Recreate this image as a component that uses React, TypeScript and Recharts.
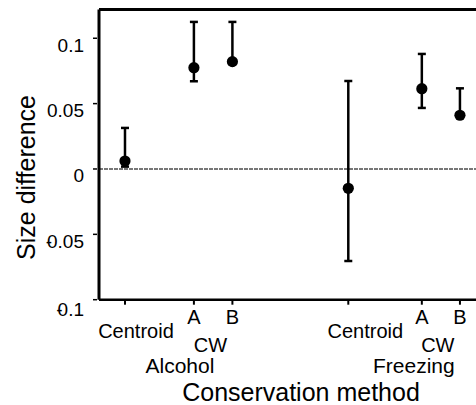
import React from 'react';
import { ScatterChart, Scatter, XAxis, YAxis, ErrorBar, ReferenceLine } from 'recharts';

// ---- data ----
const categories = ['Centroid', 'A', 'B', 'Centroid', 'A', 'B'];
const xPositions = [1, 2.79, 3.79, 6.8, 8.71, 9.7];
const means = [0.0061, 0.0775, 0.0821, -0.0148, 0.0614, 0.0411];
const lowers = [0.0018, 0.0671, 0.0803, -0.0704, 0.0467, 0.0393];
const uppers = [0.0314, 0.1125, 0.1125, 0.0673, 0.088, 0.0617];
const groupNames = ['Alcohol', 'Freezing'];
const subgroupName = 'CW';
const yTicks = [-0.1, -0.05, 0, 0.05, 0.1];
const yTickLabels = ['-0.1', '-0.05', '0', '0.05', '0.1'];
const xAxisTitle = 'Conservation method';
const yAxisTitle = 'Size difference';

const data = categories.map((c, i) => ({
  name: c,
  x: xPositions[i],
  y: means[i],
  err: [means[i] - lowers[i], uppers[i] - means[i]],
}));

// ---- layout / style ----
const FONT = '"Liberation Sans", Arial, sans-serif';
const centroidDx = [11, 0, 0, 17, 0, 0];
const subDx = [0, 16.5, 0, 0, 16, 0];
const groupDx = [0, -14, 0, 0, -8, 0];

const YTick = (props: any) => {
  const { x, y, payload } = props;
  const i = yTicks.indexOf(payload.value);
  const label = yTickLabels[i] ?? String(payload.value);
  const neg = label.startsWith('-');
  const dy = payload.value === -0.1 ? 16 : 13.5;
  return (
    <g>
      <line x1={x - 6} x2={x - 2} y1={y} y2={y} stroke="#000" strokeWidth={1.5} />
      <text x={x - 15} y={y + dy} textAnchor="end" fontSize={19} fill="#000" fontFamily={FONT}>
        {neg ? (
          <>
            <tspan>-</tspan>
            <tspan dx={-5}>{label.slice(1)}</tspan>
          </>
        ) : (
          label
        )}
      </text>
    </g>
  );
};

const XTick = (props: any) => {
  const { x, y, index } = props;
  const label = categories[index];
  const isCentroid = label === 'Centroid';
  const groupIdx = index < 3 ? 0 : 1;
  return (
    <g>
      <line x1={x} x2={x} y1={y} y2={y + 5} stroke="#000" strokeWidth={2} />
      <text
        x={x + centroidDx[index]}
        y={y + (isCentroid ? 38.5 : 23.8)}
        textAnchor="middle"
        fontSize={20}
        fill="#000"
        fontFamily={FONT}
      >
        {label}
      </text>
      {label === 'A' && (
        <>
          <text x={x + subDx[index]} y={y + 52} textAnchor="middle" fontSize={20} fill="#000" fontFamily={FONT}>
            {subgroupName}
          </text>
          <text x={x + groupDx[index]} y={y + 73.5} textAnchor="middle" fontSize={21} fill="#000" fontFamily={FONT}>
            {groupNames[groupIdx]}
          </text>
        </>
      )}
    </g>
  );
};

const Dot = (props: any) => <circle cx={props.cx} cy={props.cy} r={5.6} fill="#000" />;

export default function App() {
  return (
    <div style={{ position: 'absolute', left: 0, top: 0, width: 476, height: 405, background: '#fff' }}>
      <ScatterChart width={476} height={405} margin={{ top: 9.5, right: 0, bottom: 0, left: 0 }}>
        <XAxis
          type="number"
          dataKey="x"
          domain={[0.325, 10.117]}
          ticks={xPositions}
          interval={0}
          height={105.3}
          tickSize={0}
          tickMargin={0}
          tickLine={false}
          axisLine={{ stroke: '#000', strokeWidth: 2.6 }}
          tick={XTick}
          allowDataOverflow
          label={{
            content: () => (
              <text x={301} y={401} textAnchor="middle" fontSize={25} fill="#000" fontFamily={FONT}>
                {xAxisTitle}
              </text>
            ),
          }}
        />
        <YAxis
          type="number"
          dataKey="y"
          domain={[-0.1, 0.122]}
          ticks={yTicks}
          interval={0}
          width={99}
          tickSize={0}
          tickMargin={0}
          tickLine={false}
          axisLine={{ stroke: '#000', strokeWidth: 3 }}
          tick={YTick}
          allowDataOverflow
          label={{
            content: () => (
              <text
                x={35}
                y={177.5}
                textAnchor="middle"
                fontSize={25}
                fill="#000"
                fontFamily={FONT}
                transform="rotate(-90 35 177.5)"
              >
                {yAxisTitle}
              </text>
            ),
          }}
        />
        <ReferenceLine y={0} stroke="#777" strokeWidth={1.8} strokeDasharray="4 1" />
        <ReferenceLine y={0.122} stroke="#000" strokeWidth={3} />
        <Scatter data={data} shape={Dot} isAnimationActive={false}>
          <ErrorBar dataKey="err" direction="y" width={4} stroke="#000" strokeWidth={2.5} isAnimationActive={false} />
        </Scatter>
      </ScatterChart>
    </div>
  );
}
